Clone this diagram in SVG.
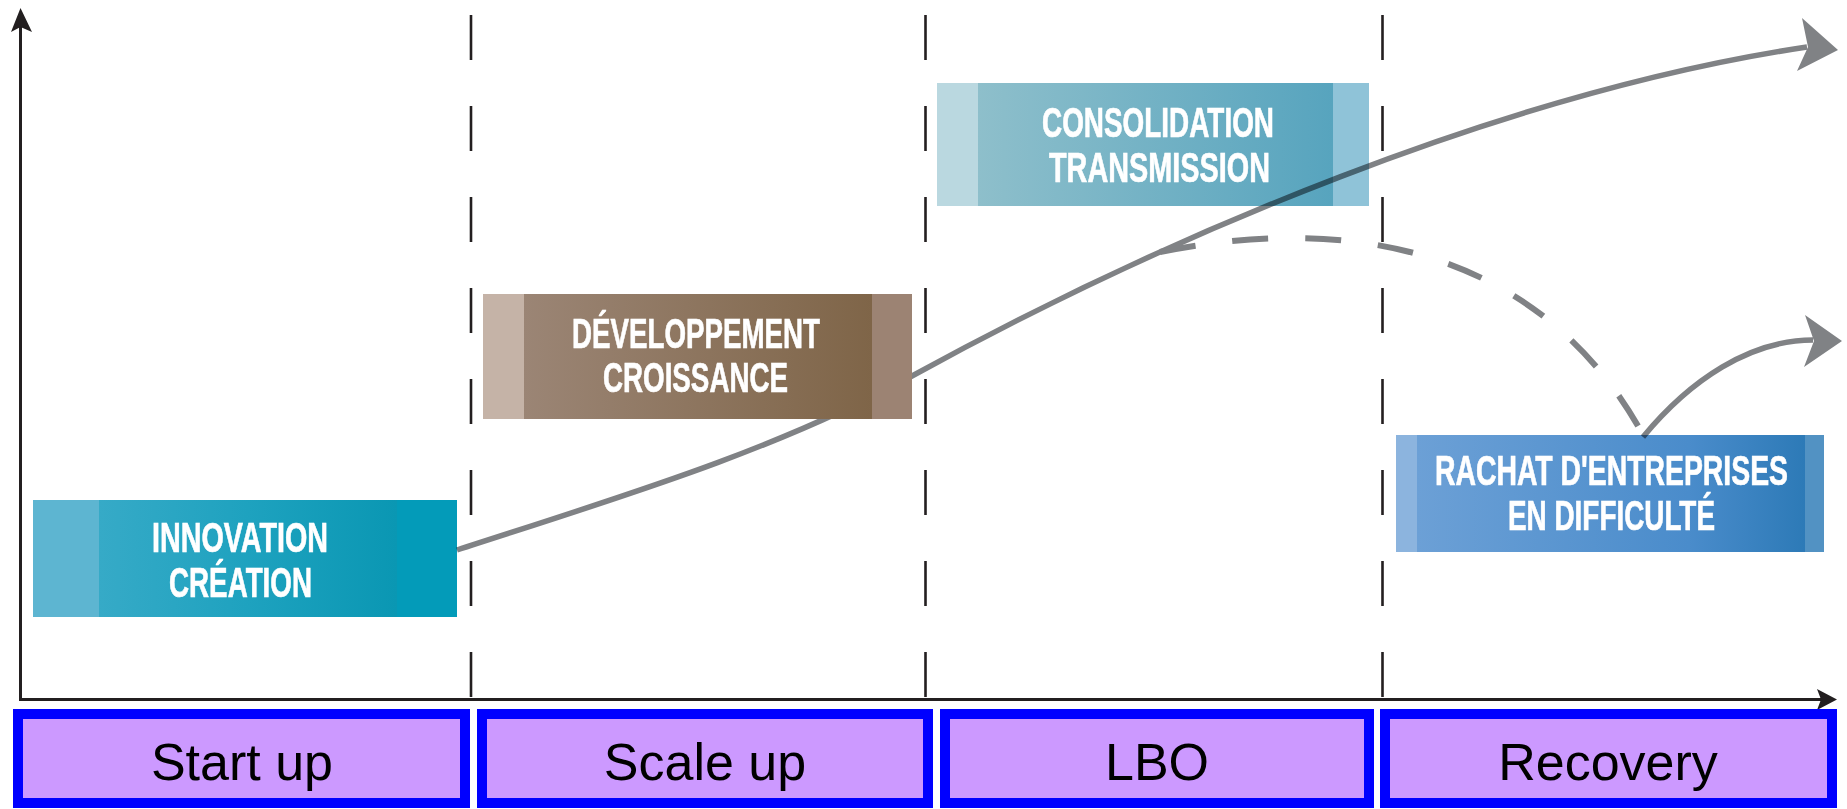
<svg xmlns="http://www.w3.org/2000/svg" width="1847" height="809" viewBox="0 0 1847 809">
<style>
.axis{stroke:#231f20;stroke-width:3;fill:none}
.ahead{fill:#231f20}
.div{stroke:#231f20;stroke-width:2.6;stroke-dasharray:45 46;fill:none}
.curve{stroke:#808285;stroke-width:5.5;fill:none;mix-blend-mode:multiply}
.dash{stroke:#808285;stroke-width:6;fill:none;stroke-dasharray:36 37}
.chead{fill:#808285}
.lbl{font-family:"Liberation Sans Narrow","Liberation Sans","DejaVu Sans Condensed",sans-serif;font-weight:bold;font-size:43px;fill:#ffffff;stroke:#ffffff;stroke-width:0.7}
.stage rect{fill:#cc99ff;stroke:#0000ff;stroke-width:10}
.stage text{font-family:"Liberation Sans",Arial,sans-serif;font-size:52px;fill:#000000;text-anchor:middle}
</style>
<defs>
<linearGradient id="gInno" x1="0" x2="1" y1="0" y2="0"><stop offset="0" stop-color="#36aac7"/><stop offset="0.5" stop-color="#1ea2bf"/><stop offset="1" stop-color="#0a97b3"/></linearGradient>
<linearGradient id="gDev" x1="0" x2="1" y1="0" y2="0"><stop offset="0" stop-color="#9b8575"/><stop offset="1" stop-color="#7f6548"/></linearGradient>
<linearGradient id="gCons" x1="0" x2="1" y1="0" y2="0"><stop offset="0" stop-color="#8ebfcb"/><stop offset="1" stop-color="#57a4be"/></linearGradient>
<linearGradient id="gRach" x1="0" x2="1" y1="0" y2="0"><stop offset="0" stop-color="#6ca0d6"/><stop offset="0.7" stop-color="#4a8ccb"/><stop offset="1" stop-color="#2d7ab7"/></linearGradient>
</defs>
<rect width="1847" height="809" fill="#ffffff"/>

<g id="axes">
<line class="axis" x1="20.5" y1="701" x2="20.5" y2="24"/>
<polygon class="ahead" points="20.5,8 32,32 20.5,27 11,32"/>
<line class="axis" x1="19" y1="699.5" x2="1824" y2="699.5"/>
<polygon class="ahead" points="1837,699.5 1817,710 1821,699.5 1817,689"/>
</g>

<g id="dividers">
<line class="div" x1="471" y1="15" x2="471" y2="699"/>
<line class="div" x1="925.5" y1="15" x2="925.5" y2="699"/>
<line class="div" x1="1382.5" y1="15" x2="1382.5" y2="699"/>
</g>

<g id="innovation">
<rect x="33" y="500" width="424" height="117" fill="#5db5d1"/>
<rect x="99" y="500" width="298" height="117" fill="url(#gInno)"/>
<rect x="397" y="500" width="60" height="117" fill="#039bb9"/>
<text class="lbl" x="152" y="552" textLength="176" lengthAdjust="spacingAndGlyphs">INNOVATION</text>
<text class="lbl" x="169" y="597" textLength="143" lengthAdjust="spacingAndGlyphs">CRÉATION</text>
</g>

<g id="consolidation">
<rect x="937" y="83" width="432" height="123" fill="#bad8e0"/>
<rect x="978" y="83" width="355" height="123" fill="url(#gCons)"/>
<rect x="1333" y="83" width="36" height="123" fill="#8fc3d8"/>
<text class="lbl" x="1042" y="137" textLength="232" lengthAdjust="spacingAndGlyphs">CONSOLIDATION</text>
<text class="lbl" x="1049" y="182" textLength="221" lengthAdjust="spacingAndGlyphs">TRANSMISSION</text>
</g>

<g id="rachat">
<rect x="1396" y="435" width="428" height="117" fill="#8cb4de"/>
<rect x="1417" y="435" width="388" height="117" fill="url(#gRach)"/>
<rect x="1805" y="435" width="19" height="117" fill="#5292c3"/>
<text class="lbl" x="1435" y="485" textLength="353" lengthAdjust="spacingAndGlyphs">RACHAT D'ENTREPRISES</text>
<text class="lbl" x="1508" y="530" textLength="207" lengthAdjust="spacingAndGlyphs">EN DIFFICULTÉ</text>
</g>

<g id="connectors">
<path class="curve" d="M457,550 C617,498 772,452 912,376 C1162,238.5 1505,92 1807,47"/>
<polygon class="chead" points="1802,18 1838,50 1797,71 1808,47"/>
<path class="dash" d="M1160,252 C1420,200 1570,300 1643,435"/>
<path class="curve" d="M1643,437 C1690,380 1750,340 1813,340"/>
<polygon class="chead" points="1805,315 1842,341 1804,367 1814,341"/>
</g>

<g id="developpement">
<rect x="483" y="294" width="429" height="125" fill="#c5b3a7"/>
<rect x="524" y="294" width="348" height="125" fill="url(#gDev)"/>
<rect x="872" y="294" width="40" height="125" fill="#9c8373"/>
<text class="lbl" x="572" y="348" textLength="248" lengthAdjust="spacingAndGlyphs">DÉVELOPPEMENT</text>
<text class="lbl" x="603" y="392" textLength="185" lengthAdjust="spacingAndGlyphs">CROISSANCE</text>
</g>

<g id="stage-startup" class="stage">
<rect x="18" y="714" width="447" height="89"/>
<text x="242" y="780">Start up</text>
</g>
<g id="stage-scaleup" class="stage">
<rect x="482" y="714" width="446" height="89"/>
<text x="705" y="780">Scale up</text>
</g>
<g id="stage-lbo" class="stage">
<rect x="945" y="714" width="424" height="89"/>
<text x="1157" y="780">LBO</text>
</g>
<g id="stage-recovery" class="stage">
<rect x="1385" y="714" width="447" height="89"/>
<text x="1608" y="780">Recovery</text>
</g>
</svg>
